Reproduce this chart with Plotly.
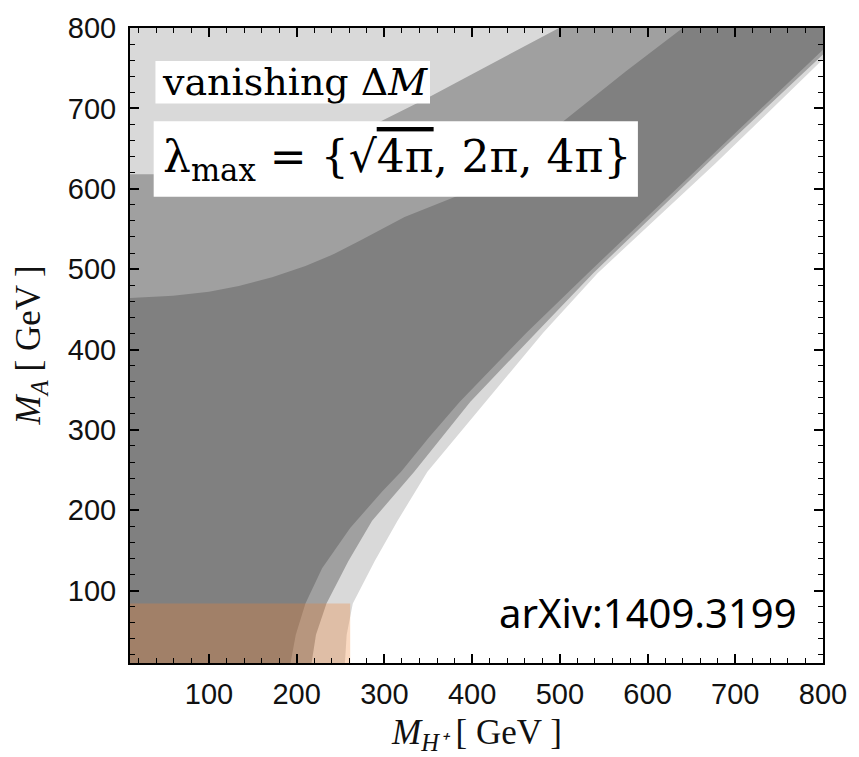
import plotly.graph_objects as go

# Axis ranges (GeV)
mh_range = [10, 800]
ma_range = [10, 800]

# Upper edges of the allowed regions on the left side (M_H+, M_A)
top_2pi_mh = [10, 38, 89, 146, 202, 259, 296, 349, 406, 462, 499]
top_2pi_ma = [618, 618, 621, 630, 644, 666, 684, 713, 746, 778, 800]

top_sqrt_mh = [10, 59, 100, 134, 172, 210, 243, 273, 323, 383, 445, 504, 575, 640]
top_sqrt_ma = [464, 467, 472, 479, 490, 504, 519, 536, 565, 591, 638, 684, 746, 800]

# Lower-right edges of the allowed regions, from the right frame down to the bottom
edge_4pi_mh = [800, 677, 543, 481, 415, 349, 315, 302, 289, 264, 257, 255]
edge_4pi_ma = [761, 631, 495, 421, 335, 248, 187, 162, 137, 84, 45, 10]

edge_2pi_mh = [800, 679, 538, 473, 398, 334, 286, 259, 234, 222, 217]
edge_2pi_ma = [767, 643, 495, 421, 335, 248, 187, 137, 84, 45, 10]

edge_sqrt_mh = [800, 687, 532, 462, 386, 351, 319, 298, 261, 229, 210, 199, 193]
edge_sqrt_ma = [773, 656, 495, 421, 335, 291, 248, 224, 178, 128, 84, 45, 10]

# Excluded low-mass box
box_mh = [10, 261]
box_ma = [10, 84]

x0, x1 = mh_range
y0, y1 = ma_range


def region(top_x, top_y, edge_x, edge_y):
    xs = [x0, x0] + top_x + [x1] + edge_x + [x0]
    ys = [y0, top_y[0]] + top_y + [y1] + edge_y + [y0]
    return xs, ys


light_x, light_y = region([x0], [y1], edge_4pi_mh, edge_4pi_ma)
mid_x, mid_y = region(top_2pi_mh, top_2pi_ma, edge_2pi_mh, edge_2pi_ma)
dark_x, dark_y = region(top_sqrt_mh, top_sqrt_ma, edge_sqrt_mh, edge_sqrt_ma)

fig = go.Figure()
for xs, ys, col, name in [
    (light_x, light_y, "#d9d9d9", "4π"),
    (mid_x, mid_y, "#a0a0a0", "2π"),
    (dark_x, dark_y, "#808080", "√4π"),
]:
    fig.add_trace(go.Scatter(x=xs, y=ys, mode="lines", fill="toself",
                             fillcolor=col, line=dict(width=0, color=col),
                             name=name, hoverinfo="skip"))

fig.add_trace(go.Scatter(
    x=[box_mh[0], box_mh[1], box_mh[1], box_mh[0], box_mh[0]],
    y=[box_ma[0], box_ma[0], box_ma[1], box_ma[1], box_ma[0]],
    mode="lines", fill="toself", fillcolor="rgba(240,128,50,0.3)",
    line=dict(width=0), hoverinfo="skip", name="excluded"))

serif = "Liberation Serif"

# White label boxes
fig.add_shape(type="rect", xref="x", yref="y", x0=39, x1=352, y0=706, y1=759,
              fillcolor="white", line=dict(width=0), layer="above")
fig.add_shape(type="rect", xref="x", yref="y", x0=37, x1=589, y0=590, y1=684,
              fillcolor="white", line=dict(width=0), layer="above")

fig.add_annotation(x=44, y=733, xref="x", yref="y", xanchor="left", yanchor="middle",
                   text="vanishing Δ<i>M</i>", showarrow=False,
                   font=dict(family="DejaVu Serif", size=38, color="black"))
fig.add_annotation(x=45, y=637, xref="x", yref="y", xanchor="left", yanchor="middle",
                   text="λ<sub>max</sub> = {√<span style='text-decoration:overline'>4π</span>, 2π, 4π}",
                   showarrow=False, font=dict(family="DejaVu Serif", size=44, color="black"))

fig.add_annotation(x=764, y=73, xref="x", yref="y", xanchor="right", yanchor="middle",
                   xshift=8, text="arXiv:1409.3199", showarrow=False,
                   font=dict(family="Noto Sans", size=40, color="black"))

# Axis titles
fig.add_annotation(x=-0.143, y=0.5, xref="paper", yref="paper", xanchor="center", yanchor="middle",
                   text="<i>M<sub>A</sub></i> [ GeV ]", textangle=-90, showarrow=False,
                   font=dict(family=serif, size=35, color="#111"))
fig.add_annotation(x=0.5, y=-0.112, xref="paper", yref="paper", xanchor="center", yanchor="middle",
                   text="<i>M<sub>H⁺</sub></i> [ GeV ]", showarrow=False,
                   font=dict(family=serif, size=35, color="#111"))

axis_common = dict(
    showgrid=False, zeroline=False, showline=True, linecolor="black", linewidth=2,
    mirror="allticks", ticks="inside", ticklen=9, tickwidth=1.5, tickcolor="black",
    tick0=0, dtick=100,
    minor=dict(ticks="inside", ticklen=5, tickwidth=1.2, tickcolor="black", dtick=20),
    tickfont=dict(family="Liberation Sans", size=29, color="#111"),
)

fig.update_xaxes(range=mh_range, ticklabelstandoff=4, **axis_common)
fig.update_yaxes(range=ma_range, ticklabelstandoff=6, **axis_common)

fig.update_layout(
    width=859, height=757,
    margin=dict(l=130, r=30, t=23, b=94),
    paper_bgcolor="white", plot_bgcolor="white",
    showlegend=False,
)

fig.write_html("out.html")
